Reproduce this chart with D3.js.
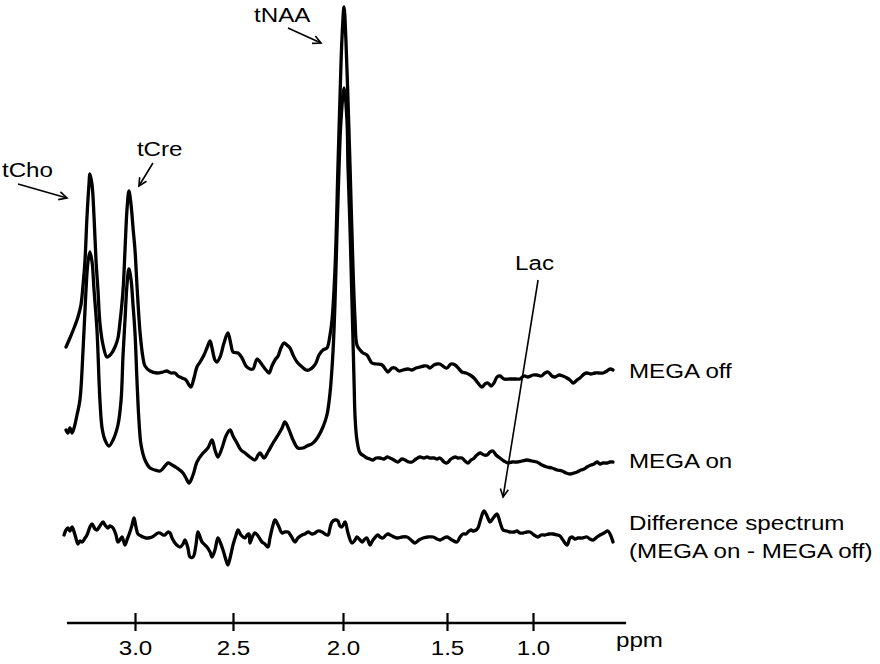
<!DOCTYPE html>
<html><head><meta charset="utf-8">
<script src="https://cdn.jsdelivr.net/npm/d3@7"></script>
<style>body{margin:0;background:#fff} svg{display:block}</style>
</head><body><svg id="c" width="880" height="664"></svg>
<script>
// ---- data: [chemical shift (ppm), intensity (a.u.)] ----
const megaOff = [[3.352,23],[3.332,32],[3.311,42],[3.291,53],[3.276,65],[3.265,85],[3.255,110],[3.245,153],[3.235,185],[3.230,196],[3.219,185],[3.209,153],[3.199,110],[3.189,80],[3.179,47],[3.163,25],[3.143,13],[3.122,16],[3.102,23],[3.087,32],[3.077,47],[3.061,80],[3.051,120],[3.041,160],[3.031,179],[3.020,165],[3.010,142],[3.000,120],[2.990,85],[2.974,37],[2.959,12],[2.949,4],[2.923,-1],[2.888,-3],[2.857,-2],[2.837,-1],[2.816,-3],[2.796,-3],[2.781,-6],[2.760,-8],[2.740,-10],[2.724,-15],[2.714,-17],[2.699,-8],[2.684,3],[2.668,8],[2.648,15],[2.633,22],[2.617,29],[2.607,22],[2.592,10],[2.582,8],[2.566,13],[2.546,27],[2.526,37],[2.510,25],[2.500,18],[2.477,17],[2.459,12],[2.441,4],[2.423,1],[2.409,1],[2.391,11],[2.377,8],[2.364,4],[2.350,0],[2.336,-3],[2.323,4],[2.309,10],[2.295,14],[2.282,22],[2.268,27],[2.255,25],[2.241,22],[2.227,15],[2.209,8],[2.186,3],[2.168,0],[2.155,0],[2.136,3],[2.123,7],[2.109,15],[2.091,20],[2.073,22],[2.059,35],[2.050,50],[2.036,103],[2.023,203],[2.014,270],[2.005,330],[1.995,363],[1.986,330],[1.976,270],[1.966,203],[1.952,103],[1.942,50],[1.933,25],[1.918,20],[1.904,17],[1.885,15],[1.861,7],[1.837,6],[1.812,5],[1.793,0],[1.784,-2],[1.764,2],[1.750,2],[1.731,-1],[1.712,0],[1.688,1],[1.668,0],[1.649,2],[1.630,3],[1.611,4],[1.596,4],[1.582,2],[1.563,5],[1.548,6],[1.534,6],[1.514,3],[1.500,2],[1.477,6],[1.453,5],[1.430,1],[1.413,-2],[1.390,-3],[1.366,-5],[1.343,-8],[1.320,-13],[1.297,-17],[1.279,-14],[1.262,-13],[1.244,-16],[1.227,-13],[1.209,-7],[1.192,-6],[1.169,-9],[1.134,-9],[1.099,-9],[1.076,-9],[1.052,-6],[1.029,-7],[1.000,-5],[0.977,-5],[0.953,-6],[0.930,-3],[0.913,-2],[0.890,-6],[0.872,-7],[0.849,-5],[0.826,-6],[0.802,-8],[0.785,-10],[0.767,-13],[0.744,-10],[0.727,-8],[0.703,-4],[0.686,-3],[0.663,-4],[0.640,-3],[0.616,-3],[0.593,-3],[0.570,-1],[0.552,1],[0.535,0]];

const megaOn = [[3.352,30],[3.342,27],[3.332,32],[3.321,27],[3.311,32],[3.296,45],[3.281,60],[3.265,110],[3.250,170],[3.240,198],[3.230,208],[3.219,198],[3.209,170],[3.194,130],[3.179,60],[3.168,32],[3.153,20],[3.133,14],[3.112,20],[3.087,35],[3.071,60],[3.061,105],[3.051,140],[3.041,175],[3.031,191],[3.020,180],[3.010,155],[3.000,127],[2.990,80],[2.980,40],[2.969,15],[2.949,0],[2.923,-8],[2.898,-10],[2.872,-11],[2.847,-6],[2.832,-3],[2.811,-5],[2.786,-8],[2.755,-13],[2.740,-18],[2.724,-23],[2.704,-15],[2.684,-2],[2.653,7],[2.628,12],[2.607,20],[2.592,10],[2.577,3],[2.556,12],[2.536,24],[2.515,30],[2.500,24],[2.482,17],[2.464,10],[2.445,7],[2.423,3],[2.400,0],[2.386,5],[2.377,7],[2.359,2],[2.341,8],[2.318,17],[2.295,25],[2.277,32],[2.264,38],[2.245,30],[2.227,20],[2.205,12],[2.182,12],[2.164,14],[2.136,17],[2.114,23],[2.091,33],[2.073,45],[2.059,67],[2.045,110],[2.036,160],[2.027,230],[2.018,293],[2.009,340],[1.995,372],[1.981,340],[1.976,293],[1.966,230],[1.957,160],[1.947,80],[1.942,43],[1.933,20],[1.918,7],[1.899,4],[1.885,2],[1.870,1],[1.856,0],[1.841,2],[1.822,2],[1.803,1],[1.788,3],[1.774,2],[1.755,0],[1.736,-2],[1.716,1],[1.702,0],[1.683,-2],[1.668,-2],[1.649,1],[1.630,3],[1.611,2],[1.596,3],[1.582,2],[1.563,2],[1.548,1],[1.534,2],[1.514,-2],[1.500,-3],[1.477,1],[1.453,3],[1.436,2],[1.413,2],[1.395,-1],[1.378,-3],[1.360,0],[1.349,1],[1.326,5],[1.308,7],[1.285,5],[1.267,5],[1.250,8],[1.233,9],[1.215,5],[1.192,2],[1.169,-1],[1.145,-3],[1.122,-2],[1.093,-2],[1.064,-1],[1.035,0],[1.006,-1],[0.977,-2],[0.948,-5],[0.919,-7],[0.890,-8],[0.860,-10],[0.831,-11],[0.808,-13],[0.785,-14],[0.762,-13],[0.744,-12],[0.721,-10],[0.703,-9],[0.686,-7],[0.663,-5],[0.645,-4],[0.628,-2],[0.610,-4],[0.593,-3],[0.570,-3],[0.552,-2],[0.535,-2]];

const difference = [[3.362,0],[3.352,5],[3.342,7],[3.332,4],[3.321,8],[3.306,0],[3.291,-9],[3.281,-6],[3.270,-7],[3.255,-3],[3.245,0],[3.230,8],[3.219,11],[3.204,6],[3.194,5],[3.179,9],[3.163,13],[3.153,10],[3.138,7],[3.128,9],[3.112,7],[3.097,0],[3.087,-7],[3.077,-5],[3.066,-2],[3.051,-10],[3.041,-5],[3.026,3],[3.015,10],[3.005,17],[2.995,8],[2.985,1],[2.969,-1],[2.959,-2],[2.944,-3],[2.934,-3],[2.913,-2],[2.898,0],[2.883,2],[2.872,2],[2.857,0],[2.847,0],[2.832,3],[2.821,2],[2.811,-3],[2.796,-8],[2.781,-11],[2.770,-12],[2.755,-9],[2.745,-5],[2.730,-13],[2.719,-22],[2.704,-22],[2.689,-10],[2.679,3],[2.668,-2],[2.658,-7],[2.643,-10],[2.633,-12],[2.617,-17],[2.607,-22],[2.592,-15],[2.577,-3],[2.566,-7],[2.551,-15],[2.536,-25],[2.526,-30],[2.515,-23],[2.500,-10],[2.486,0],[2.477,5],[2.464,0],[2.445,-3],[2.436,0],[2.427,1],[2.423,-8],[2.414,-3],[2.400,2],[2.386,-1],[2.368,-7],[2.355,-9],[2.341,-12],[2.332,-3],[2.318,10],[2.309,15],[2.295,10],[2.277,2],[2.264,3],[2.250,3],[2.236,-1],[2.218,-7],[2.205,-3],[2.186,0],[2.173,1],[2.159,3],[2.141,1],[2.127,2],[2.114,4],[2.095,3],[2.082,1],[2.068,0],[2.059,7],[2.050,13],[2.036,15],[2.023,14],[2.014,9],[2.005,8],[1.990,13],[1.976,2],[1.957,-8],[1.942,-5],[1.933,-2],[1.918,-5],[1.909,-7],[1.894,-4],[1.885,-3],[1.870,-10],[1.856,-5],[1.832,0],[1.822,-2],[1.808,-3],[1.793,0],[1.784,1],[1.764,-1],[1.740,-3],[1.716,-2],[1.692,-2],[1.673,-5],[1.654,-8],[1.635,-5],[1.615,-3],[1.591,-2],[1.567,-2],[1.548,-4],[1.534,-5],[1.514,-3],[1.500,-2],[1.471,-5],[1.442,-7],[1.424,-2],[1.407,1],[1.390,1],[1.378,3],[1.360,5],[1.349,4],[1.331,5],[1.320,7],[1.302,17],[1.285,24],[1.267,19],[1.250,13],[1.227,18],[1.209,21],[1.192,13],[1.174,5],[1.151,4],[1.134,3],[1.110,3],[1.093,4],[1.076,2],[1.058,2],[1.035,3],[1.017,3],[0.994,0],[0.971,-2],[0.953,0],[0.930,0],[0.907,1],[0.884,1],[0.860,0],[0.843,-1],[0.826,-5],[0.802,-10],[0.785,-3],[0.773,-2],[0.756,-4],[0.738,-3],[0.715,-3],[0.686,-2],[0.669,-4],[0.651,-5],[0.628,-2],[0.610,0],[0.587,2],[0.564,4],[0.547,-1],[0.535,-7]];

const ppmTicks = [3.0, 2.5, 2.0, 1.5, 1.0];
const tickLabels = ["3.0", "2.5", "2.0", "1.5", "1.0"];
const axisExtent = [3.347, 0.459];
const seriesNames = ["MEGA off", "MEGA on", ["Difference spectrum", "(MEGA on - MEGA off)"]];
const peakNames = ["tCho", "tCre", "tNAA", "Lac"];
const peakTipPpm = [3.347, 2.980, 2.100, 1.174];
const peakTipInt = [172, 184, 327, -127];
const axisTitle = "ppm";

// ---- layout ----
const FONT = "'Liberation Sans', Arial, Helvetica, sans-serif";
const SX = 1.15;
const svg = d3.select('#c');
const x = d3.scaleLinear().domain(ppmTicks).range([135, 233, 343, 447, 533]);
const y = d3.scaleLinear().domain([0, 363]).range([370, 7]);
const offsets = [0, -90, -165];
const series = [megaOff, megaOn, difference];

function txt(g, s, px, py, anchor) {
  return g.append('text').text(s)
    .attr('transform', `translate(${px},${py}) scale(${SX},1)`)
    .attr('text-anchor', anchor || 'start')
    .attr('font-family', FONT).attr('font-size', 21).attr('fill', '#000');
}

series.forEach((data, i) => {
  const line = d3.line()
    .x(d => x(d[0]))
    .y(d => y(d[1] + offsets[i]))
    .curve(d3.curveCatmullRom.alpha(0.5));
  svg.append('path').datum(data).attr('d', line)
    .attr('fill', 'none').attr('stroke', '#000').attr('stroke-width', 3.3)
    .attr('stroke-linejoin', 'round').attr('stroke-linecap', 'round');
});

// series labels
const labelX = 629;
txt(svg, seriesNames[0], labelX, y(offsets[0]) + 8);
txt(svg, seriesNames[1], labelX, y(offsets[1]) + 8);
txt(svg, seriesNames[2][0], labelX, y(offsets[2]) - 5);
txt(svg, seriesNames[2][1], labelX, y(offsets[2]) + 23);

// arrows
svg.append('defs').append('marker').attr('id', 'ah')
  .attr('viewBox', '-10 -6 12 12').attr('refX', 0).attr('refY', 0)
  .attr('markerWidth', 12).attr('markerHeight', 12)
  .attr('markerUnits', 'userSpaceOnUse').attr('orient', 'auto')
  .append('path').attr('d', 'M-8,-4 L0,0 L-8,4')
  .attr('fill', 'none').attr('stroke', '#000').attr('stroke-width', 1.6);

const tailOff = [[-49, -14], [14, -23], [-33, -15], [35, -217]];
const labOff = [[-65, -21], [-2, -30], [-67, -21], [12, -227]];
peakNames.forEach((name, i) => {
  const tx = x(peakTipPpm[i]), ty = y(peakTipInt[i]);
  svg.append('line')
    .attr('x1', tx + tailOff[i][0]).attr('y1', ty + tailOff[i][1])
    .attr('x2', tx).attr('y2', ty)
    .attr('stroke', '#000').attr('stroke-width', 1.6)
    .attr('marker-end', 'url(#ah)');
  txt(svg, name, tx + labOff[i][0], ty + labOff[i][1]);
});

// axis
const axisY = 623;
const ag = svg.append('g').attr('transform', `translate(0,${axisY})`);
ag.append('line').attr('x1', x(axisExtent[0])).attr('x2', x(axisExtent[1]))
  .attr('stroke', '#000').attr('stroke-width', 2.6);
const axis = d3.axisBottom(x).tickValues(ppmTicks)
  .tickFormat((d, i) => tickLabels[i]).tickSizeInner(8).tickSizeOuter(0);
const axG = ag.append('g').call(axis);
axG.select('.domain').remove();
axG.selectAll('.tick line').attr('y1', -10).attr('y2', 8)
  .attr('stroke', '#000').attr('stroke-width', 2.2);
axG.selectAll('.tick text').attr('y', 0).attr('dy', 0)
  .attr('transform', `translate(0,32) scale(${SX},1)`)
  .attr('font-family', FONT).attr('font-size', 21).attr('fill', '#000');
txt(svg, axisTitle, 616, axisY + 24);
</script></body></html>
